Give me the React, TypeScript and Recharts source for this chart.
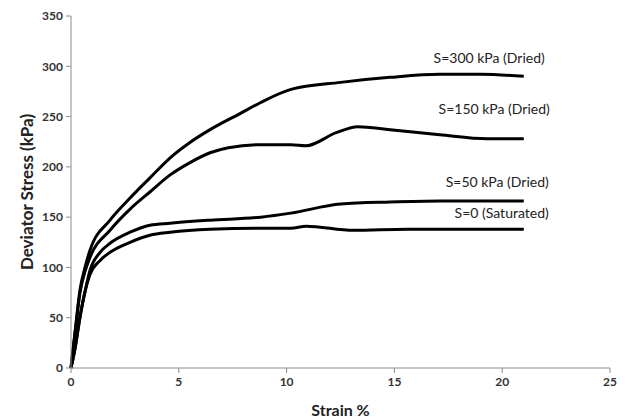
import React from 'react';
import { LineChart, Line, XAxis, YAxis, Label } from 'recharts';

// strain (%) and deviator stress (kPa)
const strain300 = [0, 0.2, 0.42, 0.65, 0.88, 1.81, 2.74, 3.66, 4.6, 5.5, 6.45, 7.84, 8.8, 10.2, 12.5, 14.8, 17.1, 19, 21];
const stress300 = [0, 38, 78, 100, 117, 147, 169, 189, 209, 224, 237, 253, 264, 277, 284, 289, 292, 292, 290];

const strain150 = [0, 0.2, 0.42, 0.65, 0.88, 1.81, 2.74, 3.66, 4.6, 5.5, 6.45, 7.3, 8.8, 10.2, 10.9, 12.3, 13.3, 14.8, 17.1, 19.3, 21];
const stress150 = [0, 37, 75, 96, 110, 137, 158, 175, 192, 204, 214, 219, 222, 222, 221, 234, 240, 237, 232, 228, 228];

const strain50 = [0, 0.2, 0.42, 0.65, 0.88, 1.35, 1.81, 2.74, 3.66, 4.6, 6.45, 8.8, 10.2, 12.5, 14.8, 17.1, 21];
const stress50 = [0, 21, 51, 76, 97, 115, 124, 135, 142, 144, 147, 150, 154, 163, 165, 166, 166];

const strain0 = [0, 0.2, 0.42, 0.65, 0.88, 1.35, 1.81, 2.74, 3.66, 4.6, 6.45, 8.8, 10.2, 10.9, 13.1, 15.6, 21];
const stress0 = [0, 21, 51, 76, 93, 107, 115, 125, 132, 135, 138, 139, 139, 141, 137, 138, 138];

const seriesNames = ['S=300 kPa (Dried)', 'S=150 kPa (Dried)', 'S=50 kPa (Dried)', 'S=0 (Saturated)'];

const xTicks = [0, 5, 10, 15, 20, 25];
const yTicks = [0, 50, 100, 150, 200, 250, 300, 350];

const toPoints = (xs: number[], ys: number[]) => xs.map((x, i) => ({ x, y: ys[i] }));

const series = [
  { name: seriesNames[0], data: toPoints(strain300, stress300), dx: 21, dy: -19 },
  { name: seriesNames[1], data: toPoints(strain150, stress150), dx: 26, dy: -30 },
  { name: seriesNames[2], data: toPoints(strain50, stress50), dx: 25, dy: -20 },
  { name: seriesNames[3], data: toPoints(strain0, stress0), dx: 25, dy: -17 },
];

const tickStyle = { fontFamily: 'Lato', fontWeight: 700, fontSize: 12, fill: '#333' };

export default function App() {
  return (
    <div style={{ position: 'absolute', left: 0, top: 0, background: '#fff' }}>
      <LineChart width={630} height={419} margin={{ top: 16, right: 20, left: 0, bottom: 0 }}>
        <XAxis
          type="number"
          dataKey="x"
          domain={[0, 25]}
          ticks={xTicks}
          allowDuplicatedCategory={false}
          height={51}
          stroke="#8c8c8c"
          tickSize={5}
          tickMargin={4}
          tick={tickStyle}
        >
          <Label
            value="Strain %"
            position="insideBottom"
            offset={3}
            style={{ fontFamily: 'Lato', fontWeight: 700, fontSize: 16, fill: '#222' }}
          />
        </XAxis>
        <YAxis
          type="number"
          dataKey="y"
          domain={[0, 350]}
          ticks={yTicks}
          width={71}
          stroke="#8c8c8c"
          tickSize={5}
          tickMargin={3}
          tick={tickStyle}
        >
          <Label
            value="Deviator Stress (kPa)"
            angle={-90}
            position="insideLeft"
            offset={27}
            style={{ textAnchor: 'middle', fontFamily: 'Lato', fontWeight: 700, fontSize: 17, fill: '#222' }}
          />
        </YAxis>
        {series.map((s) => (
          <Line
            key={s.name}
            data={s.data}
            dataKey="y"
            type="monotone"
            stroke="#000"
            strokeWidth={3}
            dot={false}
            isAnimationActive={false}
            label={(p: any) =>
              p.index === s.data.length - 1 ? (
                <text
                  x={p.x + s.dx}
                  y={p.y + s.dy}
                  textAnchor="end"
                  dominantBaseline="central"
                  style={{ fontFamily: 'Lato', fontSize: 14, fill: '#222' }}
                >
                  {s.name}
                </text>
              ) : null
            }
          />
        ))}
      </LineChart>
    </div>
  );
}
